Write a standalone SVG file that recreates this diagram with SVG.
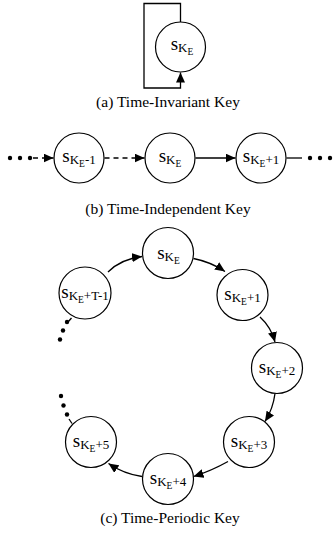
<svg xmlns="http://www.w3.org/2000/svg" width="334" height="534" viewBox="0 0 334 534" font-family="'Liberation Serif', 'Times New Roman', serif">
  <style>
    .node { fill: #fff; stroke: #000; stroke-width: 1.2; }
    .edge { fill: none; stroke: #000; stroke-width: 1.3; }
    .dash { stroke-dasharray: 5 4; }
    .lbl { font-family: 'Liberation Serif', 'Times New Roman', serif; fill: #000; text-anchor: middle; }
    .s { font-size: 19px; }
    .k { font-size: 13px; }
    .e { font-size: 9.5px; }
    .cap { font-family: 'Liberation Serif', 'Times New Roman', serif; font-size: 15.5px; fill: #000; text-anchor: middle; }
    .dot { fill: #000; }
  </style>
  <defs>
    <marker id="arr" markerWidth="11" markerHeight="9" refX="10" refY="4.5" orient="auto" markerUnits="userSpaceOnUse">
      <path d="M0,0 L10,4.5 L0,9 Z" fill="#000"/>
    </marker>
  </defs>

  <!-- connectors -->
  <g id="connectors">
    <!-- (a) self loop -->
    <path class="edge" d="M180.5,22 V3.5 H144 V88 H180.5 V72.5" marker-end="url(#arr)"/>
    <!-- (b) chain -->
    <path class="edge dash" d="M33,158 H53.5" marker-end="url(#arr)"/>
    <path class="edge dash" d="M104.5,158 H144.5" marker-end="url(#arr)"/>
    <path class="edge" d="M195.5,158 H235.5" marker-end="url(#arr)"/>
    <path class="edge" d="M286.5,158 H302"/>
    <!-- (c) ring -->
    <path class="edge" d="M108,272 Q121,259 142,256.5" marker-end="url(#arr)"/>
    <path class="edge" d="M193.5,258.5 Q211,262 225,271.5" marker-end="url(#arr)"/>
    <path class="edge" d="M260,317 Q271,327 275,342" marker-end="url(#arr)"/>
    <path class="edge" d="M275,393.5 Q273,409 265,421.5" marker-end="url(#arr)"/>
    <path class="edge" d="M228,461.5 Q211,471 193.5,476.5" marker-end="url(#arr)"/>
    <path class="edge" d="M142,476.5 Q124,474 108.5,463.5" marker-end="url(#arr)"/>
    <path class="edge" d="M71.5,318 L68,322"/>
    <path class="edge" d="M72,423.5 L69,419"/>
  </g>

  <!-- ellipsis dots -->
  <g id="dots">
    <circle class="dot" cx="10" cy="158" r="2.2"/>
    <circle class="dot" cx="20" cy="158" r="2.2"/>
    <circle class="dot" cx="30" cy="158" r="2.2"/>
    <circle class="dot" cx="310" cy="158" r="2.2"/>
    <circle class="dot" cx="320" cy="158" r="2.2"/>
    <circle class="dot" cx="330" cy="158" r="2.2"/>
    <circle class="dot" cx="67" cy="322" r="2.2"/>
    <circle class="dot" cx="63" cy="330.5" r="2.2"/>
    <circle class="dot" cx="60" cy="339.5" r="2.2"/>
    <circle class="dot" cx="61" cy="396" r="2.2"/>
    <circle class="dot" cx="63.5" cy="405.5" r="2.2"/>
    <circle class="dot" cx="67" cy="414.5" r="2.2"/>
  </g>

  <!-- (a) time-invariant -->
  <g id="a-ke">
    <circle class="node" cx="180.5" cy="47" r="25"/>
    <text class="lbl" x="182" y="50"><tspan class="s">s</tspan><tspan class="k" dy="2">K</tspan><tspan class="e" dy="3">E</tspan></text>
  </g>
  <text class="cap" x="168" y="107">(a) Time-Invariant Key</text>

  <!-- (b) time-independent -->
  <g id="b-ke-1">
    <circle class="node" cx="79" cy="158" r="25"/>
    <text class="lbl" x="79" y="162"><tspan class="s">s</tspan><tspan class="k" dy="2">K</tspan><tspan class="e" dy="3">E</tspan><tspan class="k" dy="-3">-1</tspan></text>
  </g>
  <g id="b-ke">
    <circle class="node" cx="170" cy="158" r="25"/>
    <text class="lbl" x="170" y="162"><tspan class="s">s</tspan><tspan class="k" dy="2">K</tspan><tspan class="e" dy="3">E</tspan></text>
  </g>
  <g id="b-ke+1">
    <circle class="node" cx="261" cy="158" r="25"/>
    <text class="lbl" x="261" y="162"><tspan class="s">s</tspan><tspan class="k" dy="2">K</tspan><tspan class="e" dy="3">E</tspan><tspan class="k" dy="-3">+1</tspan></text>
  </g>
  <text class="cap" x="168" y="214">(b) Time-Independent Key</text>

  <!-- (c) time-periodic -->
  <g id="c-ke">
    <circle class="node" cx="168" cy="253" r="25.5"/>
    <text class="lbl" x="168.5" y="259"><tspan class="s">s</tspan><tspan class="k" dy="2">K</tspan><tspan class="e" dy="3">E</tspan></text>
  </g>
  <g id="c-ke+1">
    <circle class="node" cx="242.5" cy="295" r="25.5"/>
    <text class="lbl" x="242.5" y="300"><tspan class="s">s</tspan><tspan class="k" dy="2">K</tspan><tspan class="e" dy="3">E</tspan><tspan class="k" dy="-3">+1</tspan></text>
  </g>
  <g id="c-ke+2">
    <circle class="node" cx="277" cy="368" r="25.5"/>
    <text class="lbl" x="277" y="373"><tspan class="s">s</tspan><tspan class="k" dy="2">K</tspan><tspan class="e" dy="3">E</tspan><tspan class="k" dy="-3">+2</tspan></text>
  </g>
  <g id="c-ke+3">
    <circle class="node" cx="249" cy="442" r="25.5"/>
    <text class="lbl" x="249" y="447"><tspan class="s">s</tspan><tspan class="k" dy="2">K</tspan><tspan class="e" dy="3">E</tspan><tspan class="k" dy="-3">+3</tspan></text>
  </g>
  <g id="c-ke+4">
    <circle class="node" cx="168" cy="479" r="25.5"/>
    <text class="lbl" x="168" y="484"><tspan class="s">s</tspan><tspan class="k" dy="2">K</tspan><tspan class="e" dy="3">E</tspan><tspan class="k" dy="-3">+4</tspan></text>
  </g>
  <g id="c-ke+5">
    <circle class="node" cx="91" cy="442" r="25.5"/>
    <text class="lbl" x="91" y="447"><tspan class="s">s</tspan><tspan class="k" dy="2">K</tspan><tspan class="e" dy="3">E</tspan><tspan class="k" dy="-3">+5</tspan></text>
  </g>
  <g id="c-ke+t-1">
    <circle class="node" cx="85" cy="293" r="26"/>
    <text class="lbl" x="85" y="298"><tspan class="s">s</tspan><tspan class="k" dy="2">K</tspan><tspan class="e" dy="3">E</tspan><tspan class="k" dy="-3">+T-1</tspan></text>
  </g>
  <text class="cap" x="170" y="523">(c) Time-Periodic Key</text>
</svg>
